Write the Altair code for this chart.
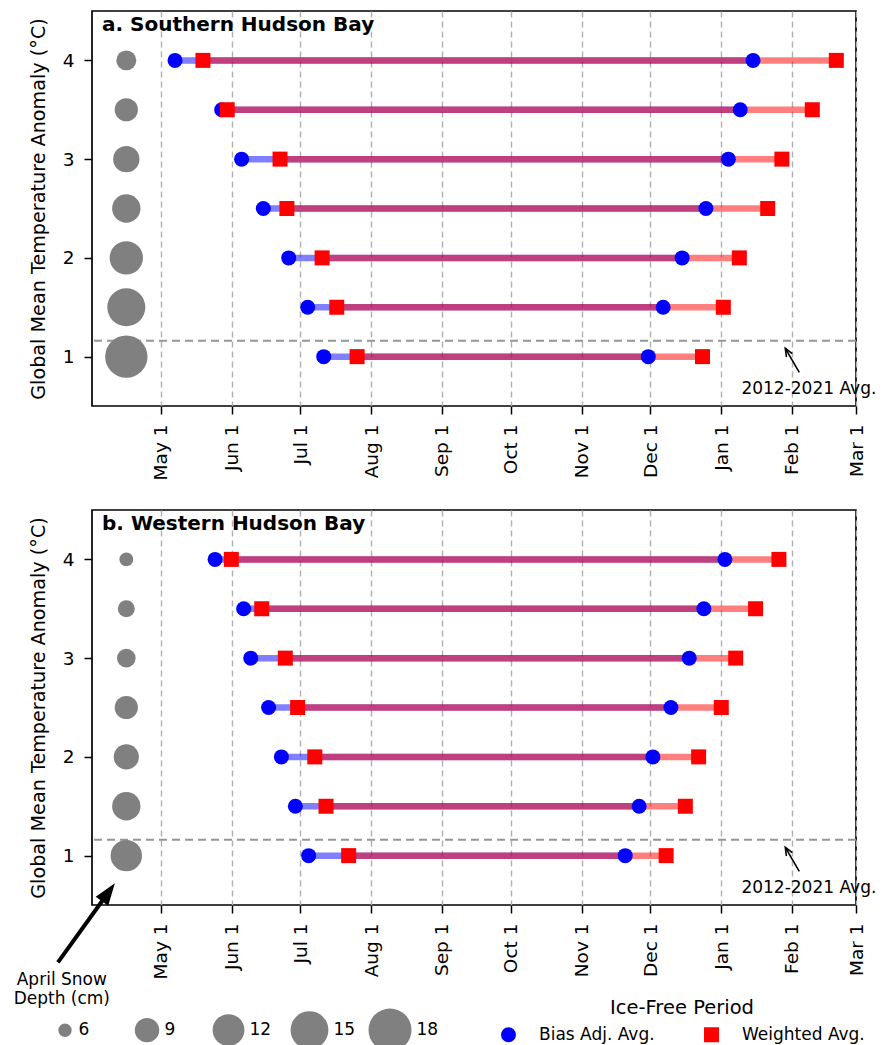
import json
import altair as alt
import pandas as pd

FONT = "DejaVu Sans"

# Global mean temperature anomaly levels (deg C)
temps = [1.0, 1.5, 2.0, 2.5, 3.0, 3.5, 4.0]

# Ice-free period, day of year (Jan 1 = 1; values > 365 fall in the following year)
south_bias_start = [192.3, 185.3, 177.0, 165.9, 156.4, 147.7, 127.3]
south_weighted_start = [206.9, 198.0, 191.6, 176.2, 173.2, 150.1, 139.5]
south_bias_end = [334.2, 340.7, 349.0, 359.4, 369.2, 374.4, 380.0]
south_weighted_end = [357.9, 367.0, 374.0, 386.4, 392.6, 405.9, 416.4]
south_snow = [17.6, 15.1, 12.7, 10.5, 9.7, 8.6, 7.6]

west_bias_start = [185.7, 179.9, 173.8, 168.2, 160.4, 157.3, 144.8]
west_weighted_start = [203.2, 193.3, 188.4, 180.9, 175.5, 165.2, 151.9]
west_bias_end = [324.1, 330.2, 336.2, 344.1, 352.1, 358.5, 367.7]
west_weighted_end = [342.0, 350.4, 356.2, 366.1, 372.4, 381.1, 391.3]
west_snow = [11.8, 10.5, 9.3, 8.6, 7.2, 6.8, 6.1]

month_days = [121, 152, 182, 213, 244, 274, 305, 335, 366, 397, 425]
month_labels = ["May 1", "Jun 1", "Jul 1", "Aug 1", "Sep 1", "Oct 1",
                "Nov 1", "Dec 1", "Jan 1", "Feb 1", "Mar 1"]
snow_legend_values = [6, 9, 12, 15, 18]
recent_avg_temp = 1.16
recent_avg_label = "2012-2021 Avg."
snow_column_day = 106

KIND_B = "Bias Adj. Avg."
KIND_W = "Weighted Avg."

# annotation anchors (data coordinates)
avg_text_pos = (404.4, 0.67)
avg_arrow_tail = (400.2, 0.84)
avg_arrow_tip = (394.1, 1.084)
snow_text_x = 77.8
snow_text_y = [-0.263, -0.456]
snow_text_lines = ["April Snow", "Depth (cm)"]
snow_arrow_tail = (76.1, -0.081)
snow_arrow_shaft_end = (98.2, 0.629)
snow_arrow_tip = (101.0, 0.719)

W, H = 764, 395

label_expr = f"{json.dumps(month_labels)}[indexof({json.dumps(month_days)}, datum.value)]"

xs = alt.Scale(domain=[91, 425], nice=False, zero=False)
ys = alt.Scale(domain=[0.5, 4.5], nice=False, zero=False)

xaxis = alt.Axis(values=month_days, labelExpr=label_expr, labelAngle=270,
                 labelFontSize=18.5, labelPadding=10, tickSize=8, tickWidth=1.5,
                 grid=True, gridDash=[6, 4], gridColor="#b0b0b0", gridWidth=1.4,
                 domain=False, title=None)
yaxis = alt.Axis(values=[1, 2, 3, 4], format="d", labelFontSize=18.5, labelPadding=10,
                 tickSize=8, tickWidth=1.5, grid=False, domain=False,
                 title="Global Mean Temperature Anomaly (°C)", titleFontSize=19.2,
                 titleFontWeight="normal", titlePadding=14)


def X(f):
    return alt.X(f, type="quantitative", scale=xs, axis=xaxis, title=None)


def Y(f):
    return alt.Y(f, type="quantitative", scale=ys, axis=yaxis)


size_scale = alt.Scale(domain=[6, 18], range=[177, 1849], zero=False)
color_scale = alt.Scale(domain=[KIND_B, KIND_W], range=["#0000ff", "#ff0000"])
shape_scale = alt.Scale(domain=[KIND_B, KIND_W], range=["circle", "square"])

size_legend = alt.Legend(title=None, orient="none", legendX=-35.5, legendY=498.5,
                         direction="horizontal", values=snow_legend_values,
                         labelFontSize=17, labelOffset=5, columnPadding=8,
                         gridAlign="all", symbolFillColor="gray", symbolStrokeWidth=0,
                         symbolOpacity=1, symbolType="circle", labelColor="black")
ice_legend = alt.Legend(title="Ice-Free Period", orient="none", legendX=408, legendY=488.5,
                        direction="horizontal", titleAnchor="middle", titleFontSize=19.5,
                        titleFontWeight="normal", titleColor="black", titlePadding=8,
                        labelFontSize=17, labelColor="black", symbolSize=225,
                        labelOffset=22, columnPadding=48, symbolStrokeWidth=0,
                        symbolOpacity=1)


def panel(title, bs, ws, be, we, snow, with_legends):
    base = pd.DataFrame({"temp": temps, "bs": bs, "ws": ws, "be": be, "we": we,
                         "snow": snow, "snow_day": [snow_column_day] * len(temps)})
    pts = pd.DataFrame({
        "kind": [KIND_B] * (2 * len(temps)) + [KIND_W] * (2 * len(temps)),
        "day": bs + be + ws + we,
        "temp": temps * 4,
    })

    ref_line = alt.Chart(pd.DataFrame({"t": [recent_avg_temp]})).mark_rule(
        color="#969696", strokeWidth=2, strokeDash=[8, 5]).encode(y=Y("t"))

    snow_pts = alt.Chart(base).mark_circle(color="gray", opacity=1).encode(
        x=X("snow_day"), y=Y("temp"),
        size=alt.Size("snow:Q", scale=size_scale,
                      legend=size_legend if with_legends else None))

    blue_line = alt.Chart(base).mark_rule(color="#0000ff", opacity=0.5, strokeWidth=6.5).encode(
        x=X("bs"), x2="be", y=Y("temp"))
    red_line = alt.Chart(base).mark_rule(color="#ff0000", opacity=0.5, strokeWidth=6.5).encode(
        x=X("ws"), x2="we", y=Y("temp"))

    lg = ice_legend if with_legends else None
    markers = alt.Chart(pts).mark_point(filled=True, size=225, opacity=1, strokeWidth=0).encode(
        x=X("day"), y=Y("temp"),
        color=alt.Color("kind:N", scale=color_scale, legend=lg),
        shape=alt.Shape("kind:N", scale=shape_scale, legend=lg))

    avg_df = pd.DataFrame({"x1": [avg_arrow_tail[0]], "y1": [avg_arrow_tail[1]],
                           "x2": [avg_arrow_tip[0]], "y2": [avg_arrow_tip[1]],
                           "tx": [avg_text_pos[0]], "ty": [avg_text_pos[1]],
                           "label": [recent_avg_label]})
    avg_shaft = alt.Chart(avg_df).mark_rule(color="black", strokeWidth=1.6).encode(
        x=X("x1"), y=Y("y1"), x2="x2", y2="y2")
    avg_head = alt.Chart(avg_df).mark_point(
        shape="M-0.75,1.8L0,0L0.75,1.8", filled=False, color="black", strokeWidth=1.6,
        size=80, angle=330, opacity=1).encode(x=X("x2"), y=Y("y2"))
    avg_text = alt.Chart(avg_df).mark_text(fontSize=17, color="black", align="center",
                                           baseline="middle").encode(
        x=X("tx"), y=Y("ty"), text="label:N")

    title_txt = alt.Chart(pd.DataFrame({"t": [title]})).mark_text(
        fontSize=20, fontWeight="bold", align="left", baseline="alphabetic",
        color="black").encode(x=alt.value(10), y=alt.value(20), text="t:N")

    layers = [ref_line, snow_pts, blue_line, red_line, markers,
              avg_shaft, avg_head, avg_text, title_txt]

    if with_legends:
        arr_df = pd.DataFrame({"x1": [snow_arrow_tail[0]], "y1": [snow_arrow_tail[1]],
                               "x2": [snow_arrow_shaft_end[0]], "y2": [snow_arrow_shaft_end[1]],
                               "hx": [snow_arrow_tip[0]], "hy": [snow_arrow_tip[1]]})
        shaft = alt.Chart(arr_df).mark_rule(color="black", strokeWidth=4).encode(
            x=X("x1"), y=Y("y1"), x2="x2", y2="y2")
        head = alt.Chart(arr_df).mark_point(
            shape="M0,0L0.7,2L-0.7,2Z", filled=True, color="black", size=484,
            angle=36, opacity=1, strokeWidth=0).encode(x=X("hx"), y=Y("hy"))
        snow_txt = alt.Chart(pd.DataFrame({"x": [snow_text_x] * 2, "y": snow_text_y,
                                           "t": snow_text_lines})).mark_text(
            fontSize=17, color="black", align="center", baseline="middle").encode(
            x=X("x"), y=Y("y"), text="t:N")
        layers += [shaft, head, snow_txt]

    return alt.layer(*layers).properties(width=W, height=H)


pa = panel("a. Southern Hudson Bay", south_bias_start, south_weighted_start,
           south_bias_end, south_weighted_end, south_snow, False)
pb = panel("b. Western Hudson Bay", west_bias_start, west_weighted_start,
           west_bias_end, west_weighted_end, west_snow, True)

chart = (
    alt.vconcat(pa, pb, spacing=28)
    .resolve_scale(color="independent", shape="independent", size="independent")
    .properties(padding={"left": 4, "top": 2, "right": 5, "bottom": 0})
    .configure(font=FONT)
    .configure_view(stroke="black", strokeWidth=1.7)
    .configure_axis(labelColor="black", titleColor="black", tickColor="black",
                    labelFont=FONT, titleFont=FONT)
    .configure_legend(labelFont=FONT, titleFont=FONT)
)

chart.save("out.html", embed_options={"renderer": "svg", "actions": False})
